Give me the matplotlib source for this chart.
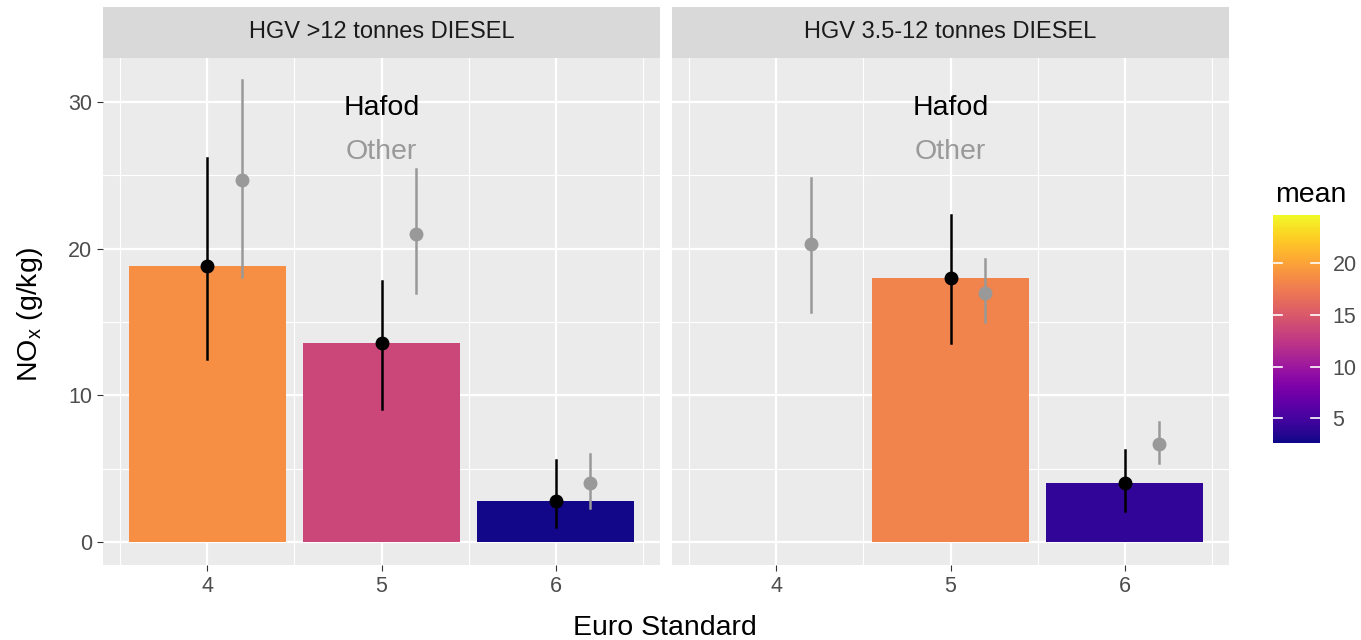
import matplotlib.pyplot as plt
import matplotlib as mpl
import numpy as np

plt.rcParams['font.family'] = ['Liberation Sans', 'DejaVu Sans']

# data
panels = ['HGV >12 tonnes DIESEL', 'HGV 3.5-12 tonnes DIESEL']
euro = [4, 5, 6]

# Hafod means and error bar limits (None = no data)
hafod_mean = [[18.8, 13.6, 2.8], [None, 18.0, 4.0]]
hafod_lo = [[12.5, 9.1, 1.0], [None, 13.6, 2.1]]
hafod_hi = [[26.2, 17.8, 5.6], [None, 22.3, 6.3]]

# Other means and error bar limits
other_mean = [[24.7, 21.0, 4.0], [20.3, 17.0, 6.7]]
other_lo = [[18.1, 17.0, 2.3], [15.7, 15.0, 5.4]]
other_hi = [[31.5, 25.4, 6.0], [24.8, 19.3, 8.2]]

all_means = [v for row in hafod_mean + other_mean for v in row if v is not None]
norm = mpl.colors.Normalize(vmin=min(all_means) - 0.2, vmax=max(all_means))
cmap = plt.get_cmap('plasma')

fig = plt.figure(figsize=(13.61, 6.4), dpi=100)
lefts = [103 / 1361, 672 / 1361]
w = 557 / 1361
bottom = 1 - 565 / 640
h = (565 - 58) / 640
strip_h = 51 / 640

for i, name in enumerate(panels):
    ax = fig.add_axes([lefts[i], bottom, w, h])
    ax.set_facecolor('#ebebeb')
    for s in ax.spines.values():
        s.set_visible(False)
    ax.set_xlim(3.4, 6.6)
    ax.set_ylim(-1.57, 33.0)
    ax.set_xticks(euro)
    ax.set_xticks([3.5, 4.5, 5.5, 6.5], minor=True)
    ax.set_yticks([0, 10, 20, 30])
    ax.set_yticks([5, 15, 25], minor=True)
    ax.grid(which='major', color='white', lw=1.6, zorder=0)
    ax.grid(which='minor', color='white', lw=0.8, zorder=0)
    ax.set_axisbelow(True)
    ax.tick_params(which='major', length=4, color='#333333', labelcolor='#4d4d4d',
                   labelsize=15.5, pad=4)
    ax.tick_params(which='minor', length=0)
    if i == 1:
        ax.tick_params(axis='y', which='both', length=0, labelleft=False)

    # bars coloured by Hafod mean
    for x, m in zip(euro, hafod_mean[i]):
        if m is not None:
            ax.bar(x, m, width=0.9, color=cmap(norm(m)), zorder=2)

    # Hafod points with error bars
    for x, m, lo, hi in zip(euro, hafod_mean[i], hafod_lo[i], hafod_hi[i]):
        if m is not None:
            ax.plot([x, x], [lo, hi], color='black', lw=1.8, zorder=3)
            ax.plot(x, m, 'o', color='black', ms=9, zorder=4)

    # Other points, shifted right
    for x, m, lo, hi in zip(euro, other_mean[i], other_lo[i], other_hi[i]):
        ax.plot([x + 0.2, x + 0.2], [lo, hi], color='#999999', lw=1.8, zorder=3)
        ax.plot(x + 0.2, m, 'o', color='#999999', ms=9, zorder=4)

    ax.text(5, 29.6, 'Hafod', color='black', fontsize=20.5, ha='center', va='center')
    ax.text(5, 26.6, 'Other', color='#999999', fontsize=20.5, ha='center', va='center')

    # facet strip
    sax = fig.add_axes([lefts[i], bottom + h, w, strip_h])
    sax.set_facecolor('#d9d9d9')
    sax.set_xticks([])
    sax.set_yticks([])
    for s in sax.spines.values():
        s.set_visible(False)
    sax.text(0.5, 0.5, name, transform=sax.transAxes, ha='center', va='center',
             fontsize=17, color='#1a1a1a')

fig.text(665 / 1361, 1 - 628 / 640, 'Euro Standard', ha='center', va='center', fontsize=20.5)
fig.text(30 / 1361, 1 - 315 / 640, r'NO$_\mathregular{x}$ (g/kg)', ha='center', va='center',
         rotation=90, fontsize=20.5)

# colour bar
cax = fig.add_axes([1273 / 1361, 1 - 443 / 640, 47 / 1361, 228 / 640])
cb = mpl.colorbar.ColorbarBase(cax, cmap=cmap, norm=norm, ticks=[5, 10, 15, 20])
cb.outline.set_visible(False)
cax.tick_params(length=0, labelsize=15.5, labelcolor='#4d4d4d', pad=9)
for t in [5, 10, 15, 20]:
    cax.plot([0, 0.2], [t, t], color='white', lw=1.2, transform=cax.get_yaxis_transform())
    cax.plot([0.8, 1], [t, t], color='white', lw=1.2, transform=cax.get_yaxis_transform())
fig.text(1275 / 1361, 1 - 195 / 640, 'mean', ha='left', va='center', fontsize=20.5)

fig.savefig('out.png', dpi=100)
